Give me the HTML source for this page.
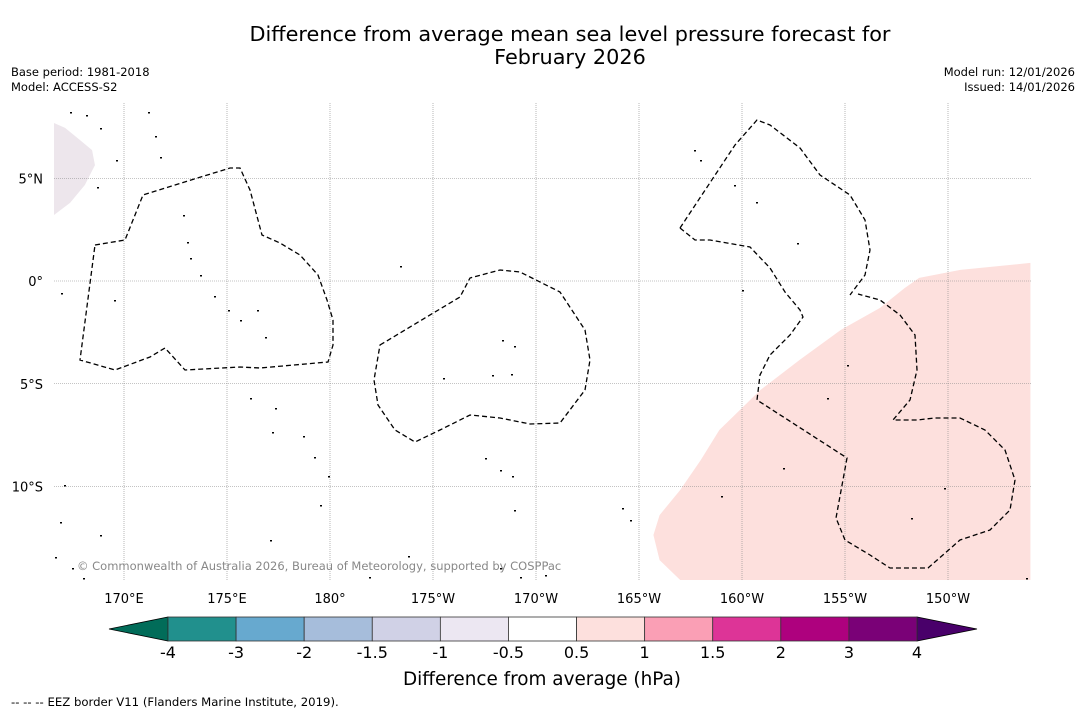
<!DOCTYPE html>
<html><head><meta charset="utf-8">
<style>
body{margin:0;background:#fff;width:1085px;height:713px;overflow:hidden;font-family:"DejaVu Sans","Liberation Sans",sans-serif;}
svg{display:block}
</style></head>
<body>
<svg width="1085" height="713" font-family="DejaVu Sans, Liberation Sans, sans-serif">
<text x="570" y="41" font-size="20.8" text-anchor="middle">Difference from average mean sea level pressure forecast for</text>
<text x="570" y="64" font-size="20.8" text-anchor="middle">February 2026</text>
<text x="11" y="76" font-size="11.5">Base period: 1981-2018</text>
<text x="11" y="91" font-size="11.5">Model: ACCESS-S2</text>
<text x="1075" y="76" font-size="11.5" text-anchor="end">Model run: 12/01/2026</text>
<text x="1075" y="91" font-size="11.5" text-anchor="end">Issued: 14/01/2026</text>
<g id="map"></g>
<g id="cbar"></g>
<text x="542" y="685" font-size="18.4" text-anchor="middle">Difference from average (hPa)</text>
<text x="11" y="706" font-size="11.7">--  --  -- EEZ border V11 (Flanders Marine Institute, 2019).</text>
</svg>
<script>
// Data
const lonTicks=[170,175,180,185,190,195,200,205,210];
const lonLabels=["170°E","175°E","180°","175°W","170°W","165°W","160°W","155°W","150°W"];
const latTicks=[5,0,-5,-10];
const latLabels=["5°N","0°","5°S","10°S"];
const positiveAnomalyLon=[214.0,210.6,208.6,207.9,206.7,204.8,202.8,200.9,198.9,198.0,197.0,196.0,195.7,196.0,197.0,214.0];
const positiveAnomalyLat=[0.88,0.54,0.15,-0.34,-1.31,-2.38,-3.84,-5.30,-7.25,-8.71,-10.17,-11.39,-12.36,-13.58,-14.55,-14.55];
const negativeAnomalyLon=[166.6,167.14,167.86,168.45,168.59,168.1,167.38,166.6];
const negativeAnomalyLat=[7.69,7.45,6.86,6.37,5.64,4.67,3.80,3.21];
const cbarBounds=["-4","-3","-2","-1.5","-1","-0.5","0.5","1","1.5","2","3","4"];
const cbarColors=["#21908d","#67a9cf","#a6bddb","#d0d1e6","#ece7f2","#ffffff","#fde0dd","#fa9fb5","#dd3497","#ae017e","#7a0177"];

const NS="http://www.w3.org/2000/svg";
const X0=54,X1=1031,Y0=103,Y1=580;
function xs(lon){return 124+(lon-170)*20.6;}
function ys(lat){return 281-lat*20.55;}
function mk(t,a,p){const e=document.createElementNS(NS,t);for(const k in a)e.setAttribute(k,a[k]);p.appendChild(e);return e;}
const map=document.getElementById('map');
const clip=mk('clipPath',{id:'mc'},map);mk('rect',{x:X0,y:Y0,width:X1-X0,height:Y1-Y0},clip);
const g=mk('g',{'clip-path':'url(#mc)'},map);
let p=mk('polygon',{points:positiveAnomalyLon.map((l,i)=>xs(l)+','+ys(positiveAnomalyLat[i])).join(' '),fill:'#fde0dd'},g);


p=mk('polygon',{points:negativeAnomalyLon.map((l,i)=>xs(l)+','+ys(negativeAnomalyLat[i])).join(' '),fill:'#ede6ec'},g);


lonTicks.forEach((l,i)=>{
 const ln=mk('line',{x1:xs(l),x2:xs(l),y1:Y0,y2:Y1,stroke:'#888','stroke-width':0.6,'stroke-dasharray':'1,1'},g);
 
 
 const t=mk('text',{x:xs(l),y:603,'font-size':13,'text-anchor':'middle'},map);t.textContent=lonLabels[i];
 
 
});
latTicks.forEach((l,i)=>{
 const ln=mk('line',{x1:X0,x2:X1,y1:ys(l),y2:ys(l),stroke:'#888','stroke-width':0.6,'stroke-dasharray':'1,1'},g);
 
 
 const t=mk('text',{x:43,y:ys(l)+5,'font-size':13,'text-anchor':'end'},map);t.textContent=latLabels[i];
 
 
});
const eez=["M95,245 L125,240 L143,195 L175,185 L230,168 L240,168 L250,190 L262,235 L280,243 L300,255 L318,275 L327,300 L333,320 L333,345 L328,362 L260,368 L240,367 L185,370 L165,348 L150,357 L115,370 L80,360 Z",
"M380,345 L460,297 L470,278 L500,270 L520,272 L560,292 L585,330 L590,360 L585,390 L560,423 L530,424 L500,418 L470,415 L440,430 L415,442 L395,430 L378,405 L374,380 Z",
"M680,228 L735,145 L757,120 L770,125 L800,148 L820,175 L850,195 L865,220 L870,250 L865,275 L850,295",
"M680,228 L695,240 L710,240 L750,247 L770,268 L785,292 L800,310 L803,317 L790,335 L770,355 L760,375 L757,400 L847,458 L836,518 L845,540 L870,555 L890,568 L928,568 L960,540 L990,530 L1010,510 L1015,480 L1005,450 L985,430 L960,418 L935,418 L917,420 L893,420 L910,400 L917,370 L915,335 L900,315 L880,300 L858,294"];
eez.forEach(d=>{const e=mk('path',{d:d,fill:'none',stroke:'#000','stroke-width':1.3,'stroke-dasharray':'5,3'},g);
 
 });
const isl=[[70,112],[86,115],[100,128],[148,112],[155,136],[160,157],[116,160],[97,187],[183,215],[187,242],[190,258],[200,275],[214,296],[228,310],[240,320],[257,310],[265,337],[250,398],[275,408],[272,432],[303,436],[314,457],[328,476],[320,505],[61,293],[114,300],[400,266],[443,378],[492,375],[502,340],[511,374],[514,346],[485,458],[500,470],[512,476],[514,510],[694,150],[700,160],[734,185],[756,202],[797,243],[742,290],[783,468],[721,496],[827,398],[847,365],[911,518],[944,488],[1026,578],[622,508],[630,520],[60,522],[100,535],[270,540],[408,556],[55,557],[72,568],[83,578],[369,577],[520,577],[545,575],[64,485],[500,568]];
isl.forEach(c=>{const e=mk('rect',{x:c[0],y:c[1],width:2,height:1.5,fill:'#000'},g);
 
 });
const cp=mk('text',{x:77,y:570,'font-size':11.5,fill:'#888'},map);cp.textContent="© Commonwealth of Australia 2026, Bureau of Meteorology, supported by COSPPac";


// colorbar
const cb=document.getElementById('cbar');
const CX0=168,CX1=917,CY0=617,CY1=641,n=cbarColors.length,w=(CX1-CX0)/n;
let tri=mk('polygon',{points:`${CX0},${CY0} ${CX0},${CY1} 109,629`,fill:'#016c59',stroke:'#000','stroke-width':0.8},cb);


tri=mk('polygon',{points:`${CX1},${CY0} ${CX1},${CY1} 977,629`,fill:'#49006a',stroke:'#000','stroke-width':0.8},cb);


cbarColors.forEach((c,i)=>{const r=mk('rect',{x:CX0+i*w,y:CY0,width:w,height:CY1-CY0,fill:c,stroke:'#333','stroke-width':0.8},cb);
 
 });
cbarBounds.forEach((b,i)=>{const t=mk('text',{x:CX0+i*w,y:658,'font-size':16,'text-anchor':'middle'},cb);t.textContent=b;
 
 });
</script>
</body></html>
